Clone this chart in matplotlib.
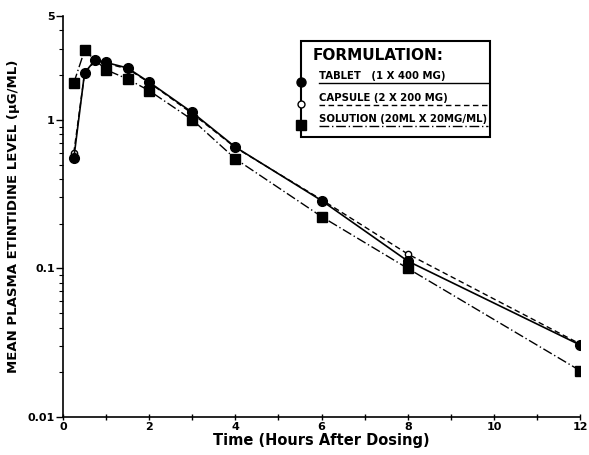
import matplotlib
matplotlib.use("Agg")
import matplotlib.pyplot as plt
from matplotlib.lines import Line2D
from matplotlib.ticker import FixedLocator, LogLocator, NullFormatter

# time points (hours)
t_tablet = [0.25, 0.5, 0.75, 1, 1.5, 2, 3, 4, 6, 8, 12]
tablet = [0.55, 2.07, 2.54, 2.43, 2.23, 1.79, 1.12, 0.655, 0.286, 0.112, 0.0305]

t_capsule = [0.25, 0.5, 0.75, 1, 1.5, 2, 3, 4, 6, 8, 12]
capsule = [0.60, 2.05, 2.50, 2.40, 2.20, 1.78, 1.10, 0.65, 0.29, 0.125, 0.031]

t_solution = [0.25, 0.5, 1, 1.5, 2, 3, 4, 6, 8, 12]
solution = [1.77, 2.93, 2.17, 1.88, 1.57, 1.0, 0.546, 0.223, 0.100, 0.0205]

legend_labels = ["TABLET   (1 X 400 MG)", "CAPSULE (2 X 200 MG)", "SOLUTION (20ML X 20MG/ML)"]

fig = plt.figure(figsize=(5.89, 4.55), dpi=100)
ax = fig.add_axes([0.107, 0.0835, 0.878, 0.8815])

ax.plot(t_capsule, capsule, color="black", lw=1.0, ls=(0, (4, 2.5)),
        marker="o", ms=4.5, mfc="white", mec="black", mew=1.0, zorder=2)
ax.plot(t_solution, solution, color="black", lw=1.0, ls=(0, (7, 2, 1, 2)),
        marker="s", ms=6.5, mfc="black", mec="black", zorder=3)
ax.plot(t_tablet, tablet, color="black", lw=1.2, ls="-",
        marker="o", ms=7, mfc="black", mec="black", zorder=4)

ax.set_yscale("log")
ax.set_xlim(0, 12)
ax.set_ylim(0.01, 5)
ax.yaxis.set_major_locator(FixedLocator([0.01, 0.1, 1, 5]))
ax.set_yticklabels(["0.01", "0.1", "1", "5"])
ax.yaxis.set_minor_locator(LogLocator(base=10, subs=range(2, 10)))
ax.yaxis.set_minor_formatter(NullFormatter())
ax.set_xticks(range(0, 13, 2))
ax.set_xticks(range(1, 12, 2), minor=True)

for s in ["top", "right"]:
    ax.spines[s].set_visible(False)
for s in ["left", "bottom"]:
    ax.spines[s].set_linewidth(1.2)

ax.tick_params(axis="y", which="major", length=5, width=1.0, labelsize=8, pad=1)
ax.tick_params(axis="y", which="minor", length=3, width=0.8)
ax.tick_params(axis="x", which="both", direction="inout", length=5, width=1.0,
               labelsize=8, pad=1)
for lab in ax.get_xticklabels() + ax.get_yticklabels():
    lab.set_fontweight("bold")

ax.set_xlabel("Time (Hours After Dosing)", fontsize=10.5, fontweight="bold", labelpad=1)
ax.set_ylabel("MEAN PLASMA ETINTIDINE LEVEL (\u03bcG/ML)", fontsize=9.5,
              fontweight="bold", labelpad=5)

# hand-drawn style legend box
lx0, lx1 = 301 / 589, 490 / 589
ly0, ly1 = 1 - 137 / 455, 1 - 41 / 455
fig.patches.append(plt.Rectangle((lx0, ly0), lx1 - lx0, ly1 - ly0, transform=fig.transFigure,
                                 fill=True, facecolor="white", edgecolor="black", lw=1.5,
                                 zorder=5))
fig.text(lx0 + 0.02, 1 - 55 / 455, "FORMULATION:", fontsize=11, fontweight="bold",
         va="center", ha="left", zorder=6)
rows_y = [1 - 82 / 455, 1 - 104 / 455, 1 - 125 / 455]
styles = [("o", "black", 6.5, "-"), ("o", "white", 5, (0, (4, 2.5))),
          ("s", "black", 6.5, (0, (7, 2, 1, 2)))]
for yy, lab, (mk, fc, ms, ls) in zip(rows_y, legend_labels, styles):
    fig.lines.append(Line2D([lx0], [yy], transform=fig.transFigure, marker=mk, ms=ms,
                            mfc=fc, mec="black", ls="none", zorder=7))
    fig.text(lx0 + 0.03, yy + 0.002, lab, fontsize=7.3, fontweight="bold", va="bottom",
             ha="left", zorder=6)
    fig.lines.append(Line2D([lx0 + 0.03, lx1 - 0.004], [yy - 0.003, yy - 0.003],
                            transform=fig.transFigure, color="black", lw=1.0, ls=ls,
                            zorder=6))

fig.savefig("out.png", dpi=100)
